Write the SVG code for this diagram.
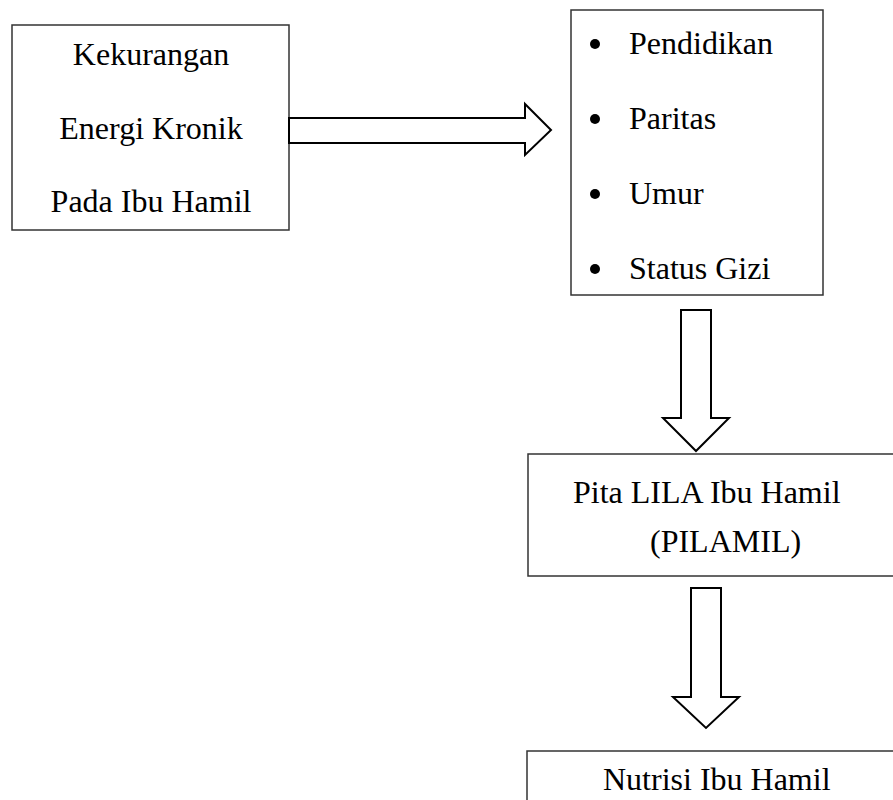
<svg xmlns="http://www.w3.org/2000/svg" width="893" height="800" viewBox="0 0 893 800">
<style>
.box{fill:#fff;stroke:#333;stroke-width:1.5}
.arr{fill:#fff;stroke:#000;stroke-width:2;stroke-linejoin:miter}
text{font-family:"Liberation Serif","Times New Roman",serif;font-size:32px;fill:#000}
.c{text-anchor:middle}
</style>
<rect width="893" height="800" fill="#fff"/>
<g id="node-kek">
<rect class="box" x="12" y="25" width="277" height="205"/>
<text class="c" x="151" y="65">Kekurangan</text>
<text class="c" x="151" y="139">Energi Kronik</text>
<text class="c" x="151" y="212">Pada Ibu Hamil</text>
</g>
<g id="node-faktor">
<rect class="box" x="571" y="10" width="252" height="285"/>
<circle cx="595" cy="44" r="5"/>
<circle cx="595" cy="119" r="5"/>
<circle cx="595" cy="194" r="5"/>
<circle cx="595" cy="269" r="5"/>
<text x="629" y="54">Pendidikan</text>
<text x="629" y="129">Paritas</text>
<text x="629" y="204">Umur</text>
<text x="629" y="279">Status Gizi</text>
</g>
<g id="node-pita">
<rect class="box" x="528" y="454" width="380" height="122"/>
<text x="573" y="503">Pita LILA Ibu Hamil</text>
<text x="650" y="552">(PILAMIL)</text>
</g>
<g id="node-nutrisi">
<rect class="box" x="527" y="751" width="380" height="80"/>
<text x="603" y="790">Nutrisi Ibu Hamil</text>
</g>
<g id="connectors">
<polygon class="arr" points="289,118 525,118 525,104 551,130 525,155 525,143 289,143"/>
<polygon class="arr" points="681,310 711,310 711,418 729,418 696,451 663,418 681,418"/>
<polygon class="arr" points="691,588 721,588 721,697 739,697 706,728 673,697 691,697"/>
</g>
</svg>
